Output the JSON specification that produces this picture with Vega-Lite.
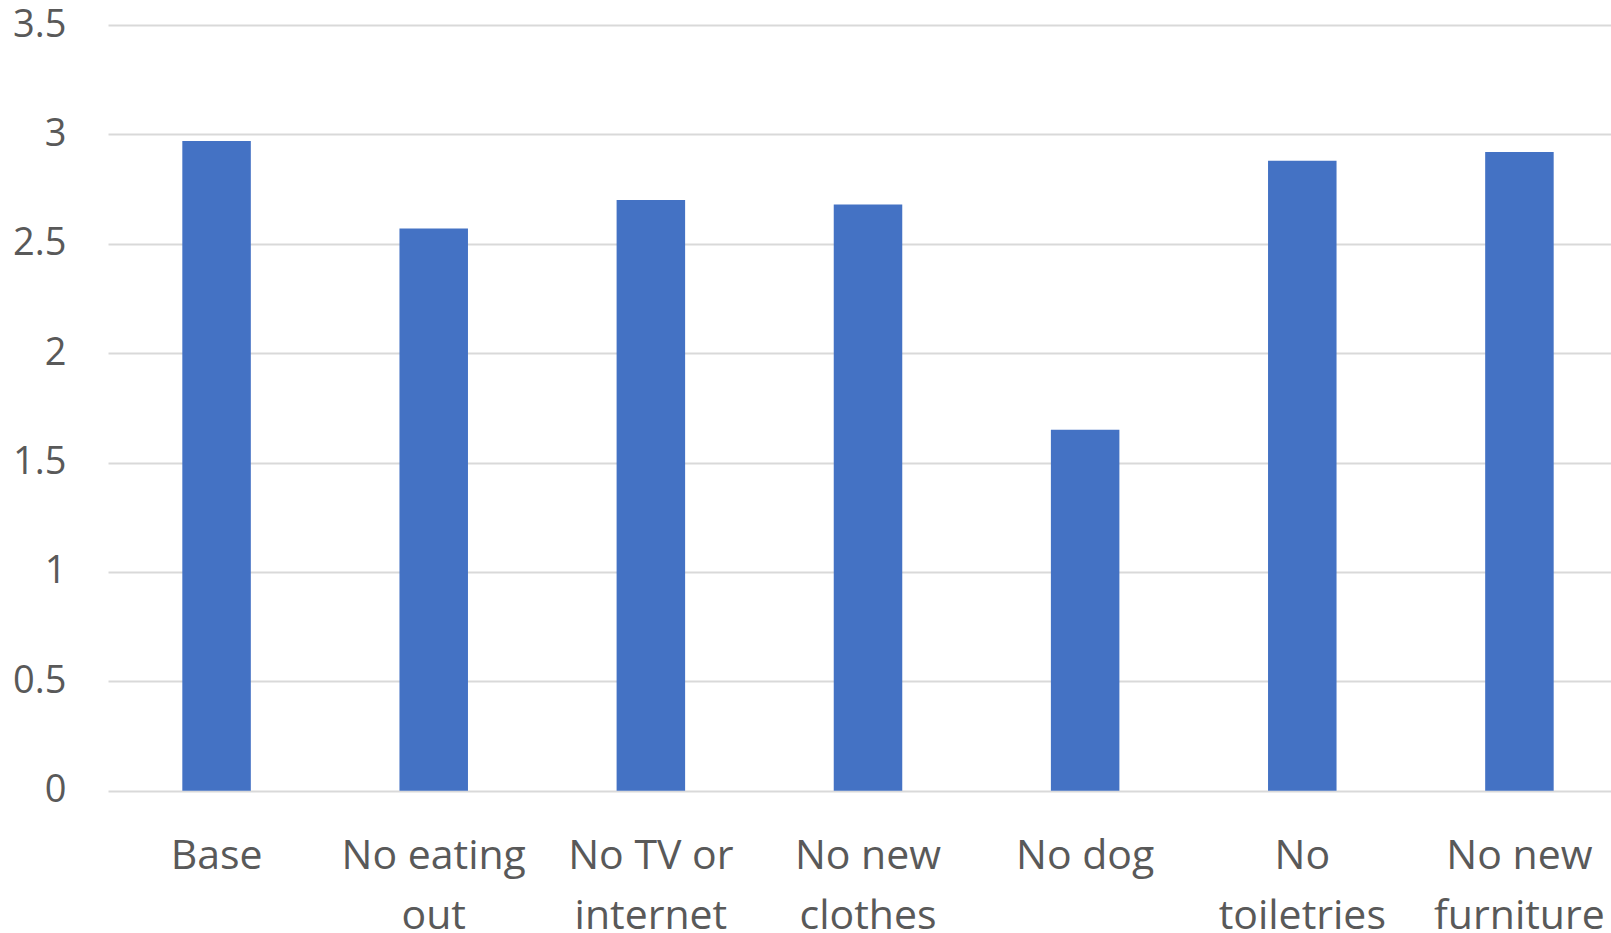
{
  "$schema": "https://vega.github.io/schema/vega-lite/v6.json",
  "autosize": "none",
  "width": 1503,
  "height": 765.7,
  "padding": {"left": 108, "top": 25, "right": 0, "bottom": 142.3},
  "background": "white",
  "data": {
    "values": [
      {"scenario": "Base", "value": 2.97},
      {"scenario": "No eating out", "value": 2.57},
      {"scenario": "No TV or internet", "value": 2.7},
      {"scenario": "No new clothes", "value": 2.68},
      {"scenario": "No dog", "value": 1.65},
      {"scenario": "No toiletries", "value": 2.88},
      {"scenario": "No new furniture", "value": 2.92}
    ]
  },
  "mark": {"type": "bar", "color": "#4472C4"},
  "encoding": {
    "x": {
      "field": "scenario",
      "type": "nominal",
      "sort": null,
      "title": null,
      "scale": {"range": [0, 1520], "paddingInner": 0.6845, "paddingOuter": 0.34225},
      "axis": {
        "labelAngle": 0,
        "domain": false,
        "ticks": false,
        "tickSize": 0,
        "grid": false,
        "labelFont": "Open Sans",
        "labelFontSize": 41,
        "labelColor": "#595959",
        "labelBaseline": "alphabetic",
        "labelPadding": 77.6,
        "labelLineHeight": 60,
        "labelLimit": 0,
        "labelOverlap": false,
        "labelExpr": "({'No eating out': ['No eating', 'out'], 'No TV or internet': ['No TV or', 'internet'], 'No new clothes': ['No new', 'clothes'], 'No toiletries': ['No', 'toiletries'], 'No new furniture': ['No new', 'furniture']})[datum.label] || datum.label"
      }
    },
    "y": {
      "field": "value",
      "type": "quantitative",
      "title": null,
      "scale": {"domain": [0, 3.5], "nice": false},
      "axis": {
        "values": [0, 0.5, 1, 1.5, 2, 2.5, 3, 3.5],
        "domain": false,
        "ticks": false,
        "tickSize": 0,
        "grid": true,
        "gridColor": "#D9D9D9",
        "gridWidth": 2,
        "labelFont": "Open Sans",
        "labelFontSize": 38,
        "labelColor": "#595959",
        "labelPadding": 42,
        "labelBaseline": "middle",
        "labelExpr": "format(datum.value, '')",
        "labelFlush": false
      }
    }
  },
  "config": {"view": {"stroke": null}}
}
